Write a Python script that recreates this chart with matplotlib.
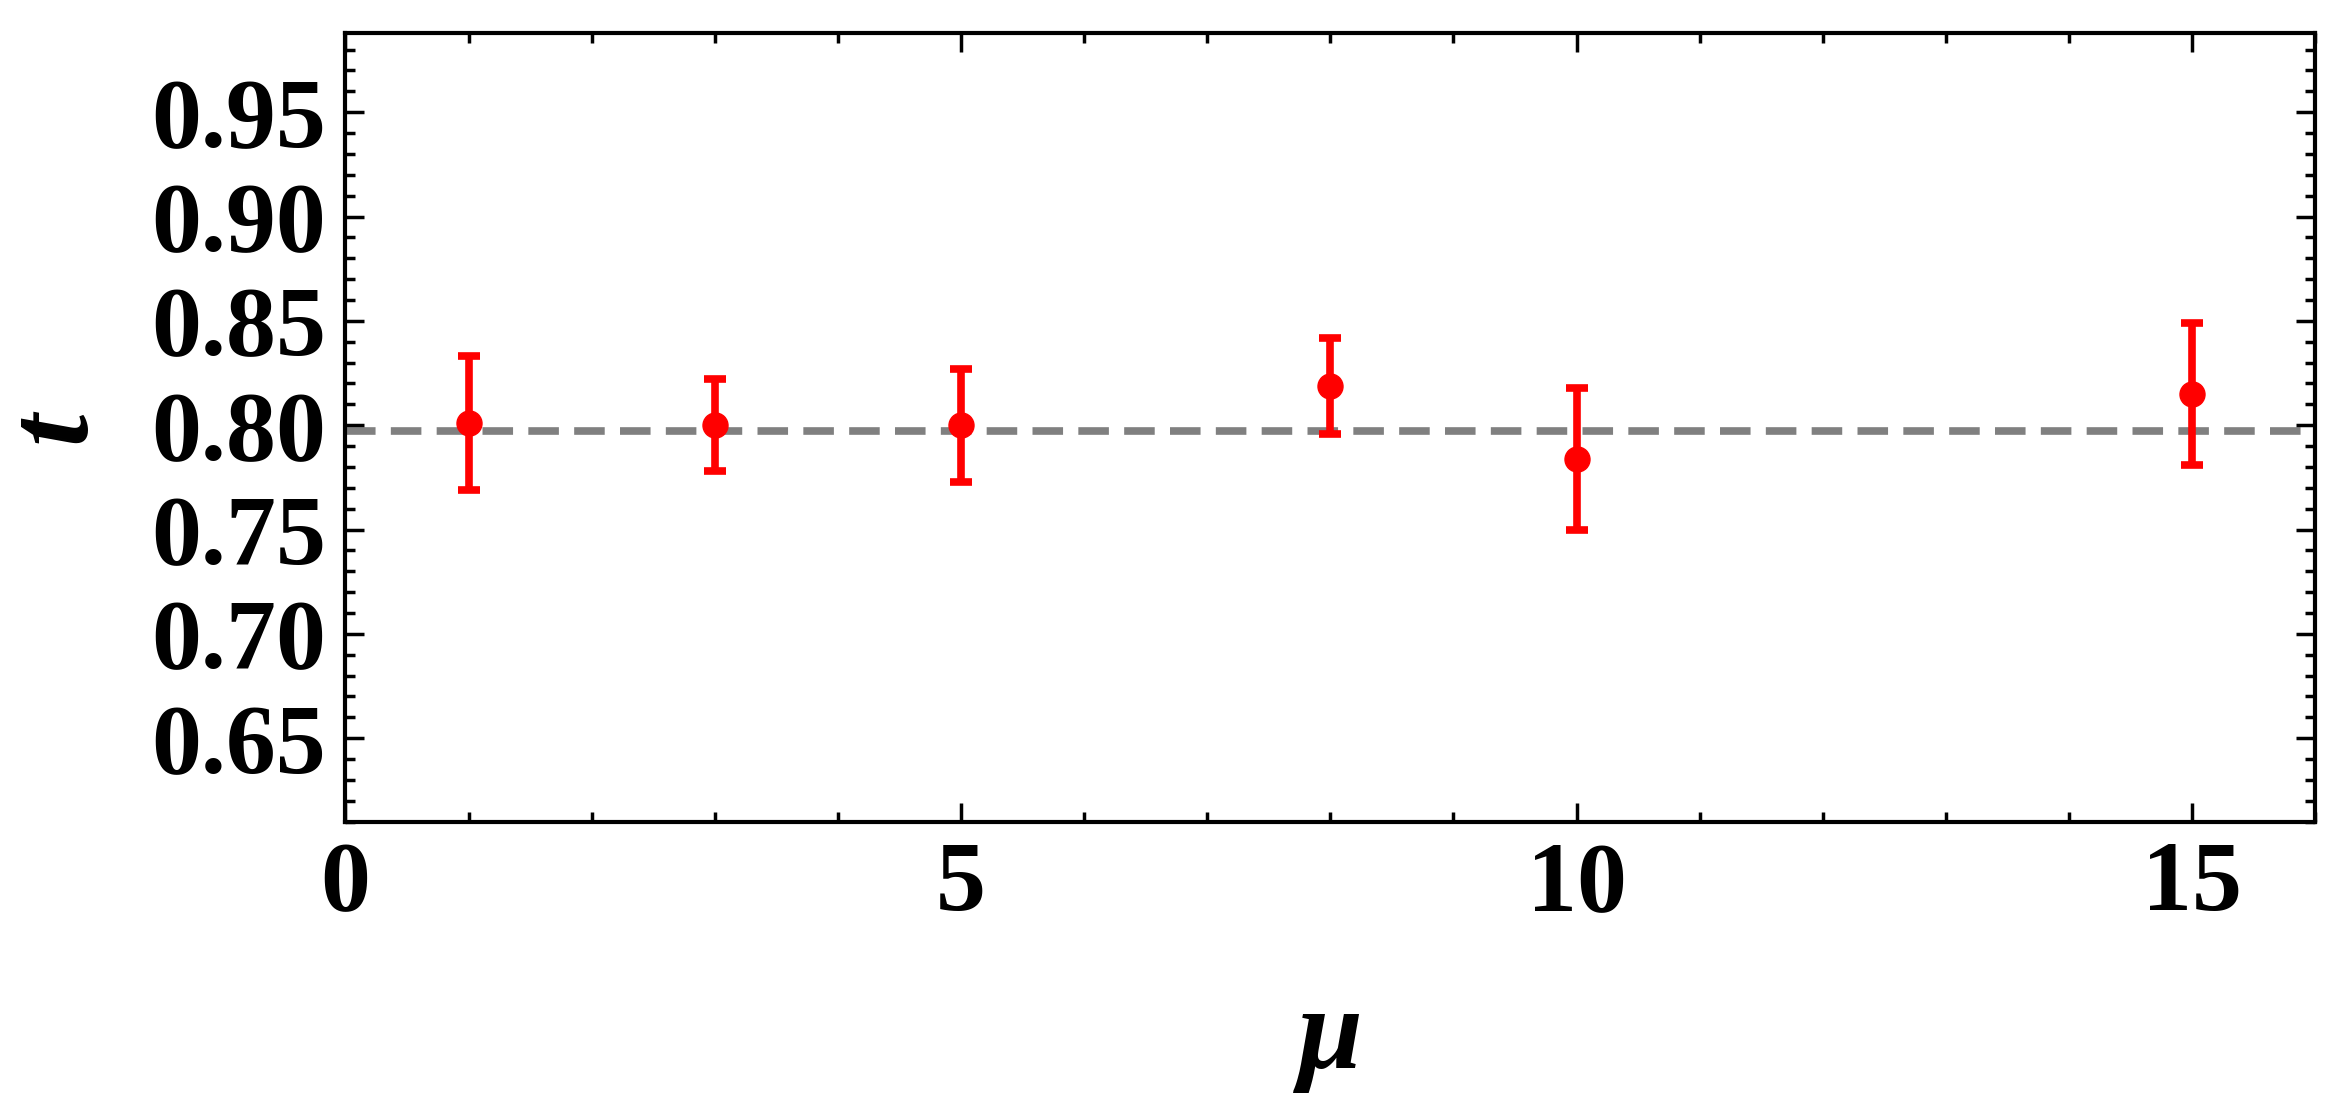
import matplotlib
matplotlib.use("Agg")
import matplotlib.pyplot as plt
from matplotlib.ticker import MultipleLocator

mu = [1, 3, 5, 8, 10, 15]
t = [0.801, 0.800, 0.800, 0.819, 0.784, 0.815]
err = [0.032, 0.022, 0.027, 0.023, 0.034, 0.034]
t_ref = 0.797

plt.rcParams['font.family'] = ['Liberation Serif', 'DejaVu Serif']

fig = plt.figure(figsize=(23.34, 10.97), dpi=100)
ax = fig.add_axes([0.148, 0.251, 0.844, 0.719])
ax.axhline(t_ref, color='gray', lw=5.5, ls=(0, (4, 2)), zorder=1)
ax.errorbar(mu, t, yerr=err, fmt='o', color='red', ms=18, elinewidth=5.5,
            capsize=8, capthick=5.5, zorder=3)
ax.set_xlim(0, 16)
ax.set_ylim(0.61, 0.988)
ax.xaxis.set_major_locator(MultipleLocator(5))
ax.xaxis.set_minor_locator(MultipleLocator(1))
ax.yaxis.set_minor_locator(MultipleLocator(0.01))
ax.set_yticks([0.65, 0.70, 0.75, 0.80, 0.85, 0.90, 0.95])
ax.set_yticklabels(['0.65', '0.70', '0.75', '0.80', '0.85', '0.90', '0.95'])
ax.tick_params(which='both', direction='in', top=True, right=True, width=2.5)
ax.tick_params(which='major', length=14, labelsize=72, pad=14)
ax.tick_params(which='minor', length=7)
for lab in ax.get_xticklabels() + ax.get_yticklabels():
    lab.set_fontweight('bold')
for s in ax.spines.values():
    s.set_linewidth(3)
ax.set_xlabel('μ', fontsize=84, fontweight='bold', fontstyle='italic', labelpad=40)
ax.set_ylabel('t', fontsize=84, fontweight='bold', fontstyle='italic', labelpad=30)
fig.savefig('out.png', dpi=100)
